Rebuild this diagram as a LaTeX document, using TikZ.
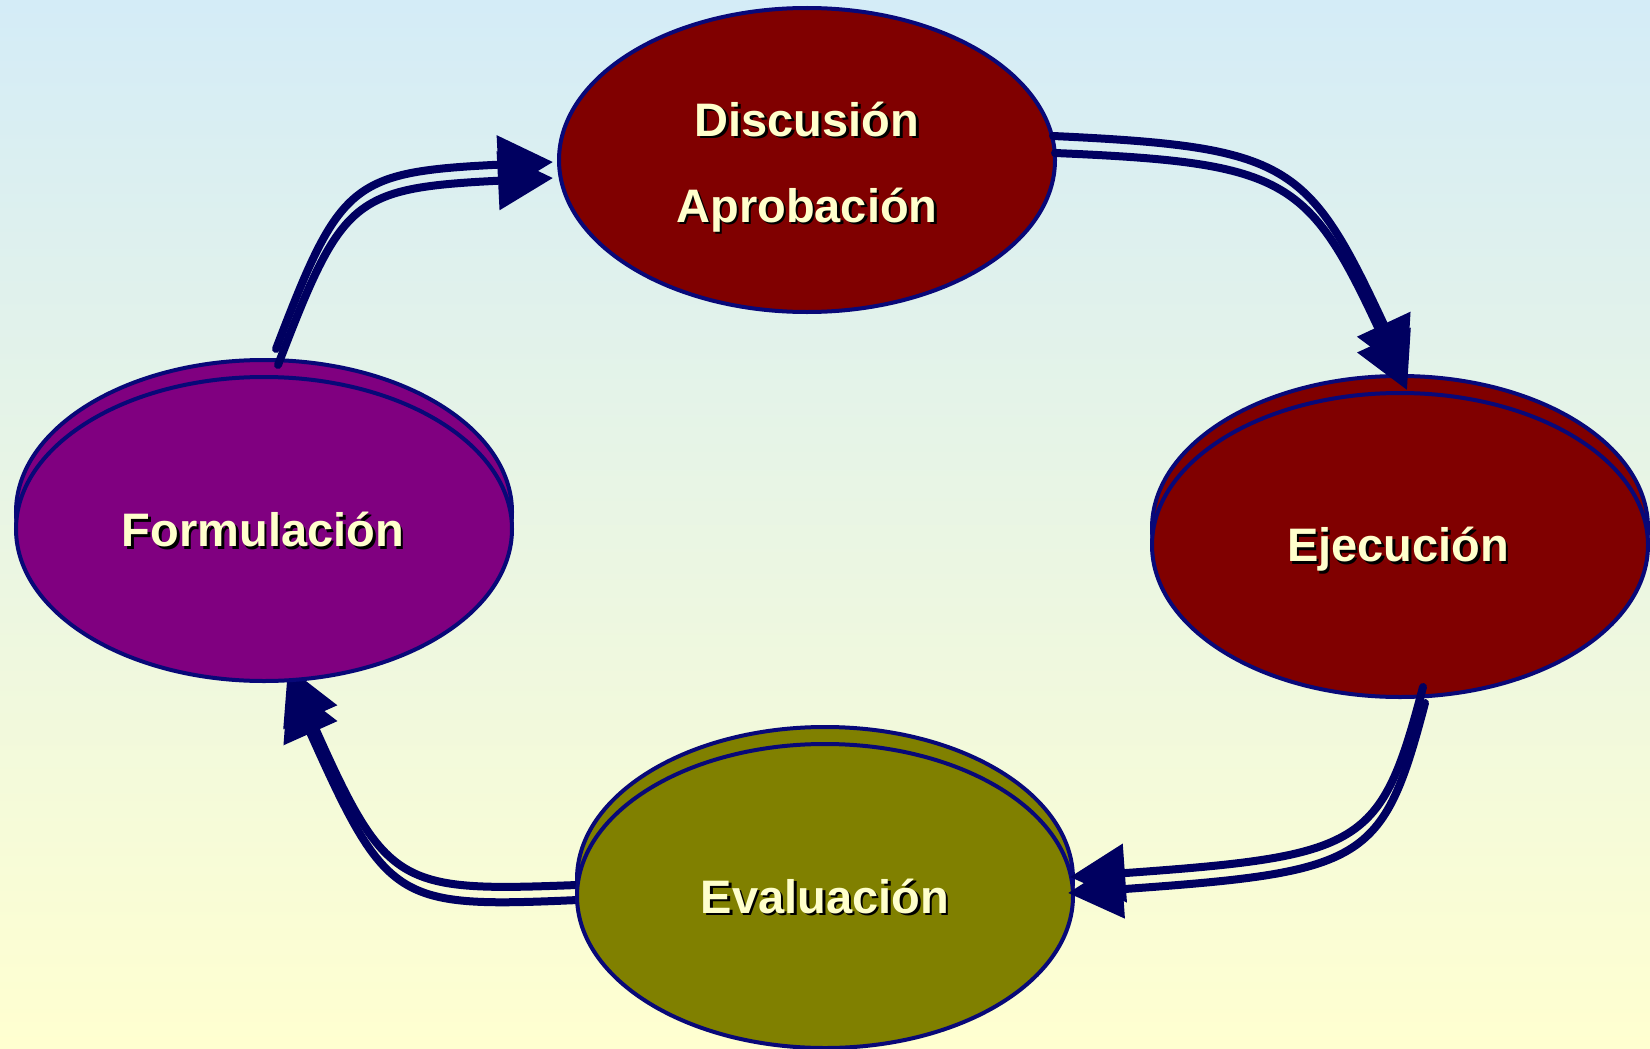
\documentclass[tikz,border=0pt]{standalone}
\usepackage{fontspec}
\setmainfont{Liberation Sans}
\usetikzlibrary{shapes.geometric,arrows.meta}
\definecolor{bgtop}{RGB}{212,236,247}
\definecolor{bgbot}{RGB}{255,255,208}
\definecolor{outl}{RGB}{8,8,120}
\definecolor{arrc}{RGB}{0,0,96}
\definecolor{maroonf}{RGB}{128,0,0}
\definecolor{purplef}{RGB}{128,0,128}
\definecolor{olivef}{RGB}{128,128,0}
\definecolor{txtc}{RGB}{255,255,204}
\newcommand\shtx[1]{\rlap{\kern2.5pt\raisebox{-2.5pt}{\color{black}#1}}#1}
\begin{document}
\begin{tikzpicture}[x=1pt,y=-1pt,
  oval/.style={ellipse,draw=outl,line width=4pt,minimum width=496pt,minimum height=304pt,inner sep=0pt,outer sep=0pt},
  conn/.style={draw=arrc,line width=8pt,line cap=round,-{Triangle[length=55pt,width=57pt]}},
  lbl/.style={anchor=base,inner sep=0pt,text=txtc,font=\bfseries\fontsize{47pt}{56pt}\selectfont}]
\useasboundingbox (0,0) rectangle (1650,1049);
\shade[top color=bgtop,bottom color=bgbot] (0,0) rectangle (1650,1049);
% back copies
\node[oval,fill=purplef] (formB) at (264,512) {};
\node[oval,fill=maroonf] (ejecB) at (1400,528) {};
\node[oval,fill=olivef] (evalB) at (825,879) {};
\node[oval,fill=maroonf] (disc) at (807,160) {};
% connector ends
\coordinate (a1s) at (276,349);  \coordinate (a1t) at (553,162);
\coordinate (a1sB) at (278,365); \coordinate (a1tB) at (553,178);
\coordinate (a2s) at (1053,136); \coordinate (a2t) at (1407,374);
\coordinate (a2sB) at (1055,153); \coordinate (a2tB) at (1407,390);
\coordinate (a3s) at (1423,687); \coordinate (a3t) at (1070,877);
\coordinate (a3sB) at (1425,703); \coordinate (a3tB) at (1068,893);
\coordinate (a4s) at (577,885);  \coordinate (a4t) at (288,667);
\coordinate (a4sB) at (578,900); \coordinate (a4tB) at (288,683);
% Formulacion -> Discusion
\draw[conn] (a1s) .. controls (340,182) and (350,172) .. (a1t);
\draw[conn] (a1sB) .. controls (342,198) and (352,188) .. (a1tB);
% Discusion -> Ejecucion
\draw[conn] (a2s) .. controls (1290,147) and (1308,162) .. (a2t);
\draw[conn] (a2sB) .. controls (1292,163) and (1309,178) .. (a2tB);
% Evaluacion -> Formulacion
\draw[conn] (a4s) .. controls (395,892) and (386,888) .. (a4t);
\draw[conn] (a4sB) .. controls (396,908) and (387,904) .. (a4tB);
% front copies
\node[oval,fill=purplef] (form) at (264,529) {};
\node[oval,fill=maroonf] (ejec) at (1400,545) {};
\node[oval,fill=olivef] (eval) at (825,896) {};
% Ejecucion -> Evaluacion
\draw[conn] (a3s) .. controls (1381,847) and (1364,856) .. (a3t);
\draw[conn] (a3sB) .. controls (1383,863) and (1366,872) .. (a3tB);
% labels
\node[lbl] (discT1) at (807,136) {\shtx{Discusión}};
\node[lbl] (discT2) at (807,222) {\shtx{Aprobación}};
\node[lbl] (formT) at (263,546.5) {\shtx{Formulación}};
\node[lbl] (ejecT) at (1398,561.7) {\shtx{Ejecución}};
\node[lbl] (evalT) at (825,913) {\shtx{Evaluación}};
\end{tikzpicture}
\end{document}
